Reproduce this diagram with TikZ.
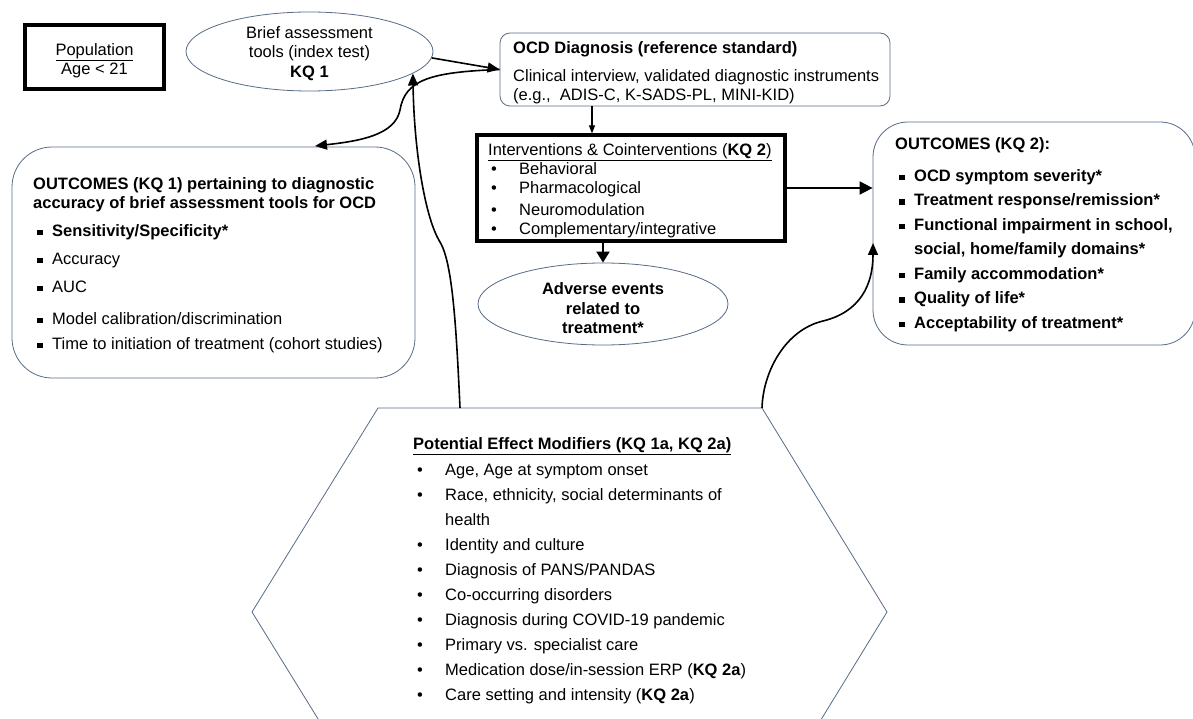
\documentclass[tikz,border=0pt]{standalone}
\usepackage{fontspec}
\setmainfont{Liberation Sans}
\usetikzlibrary{arrows.meta,shapes.geometric}
\definecolor{slate}{RGB}{88,108,134}
\newcommand{\sqb}{\rule[1.2pt]{5.5pt}{5.5pt}}
\newcommand{\sqitem}[1]{\hspace*{4pt}\makebox[15pt][l]{\sqb}#1}
\begin{document}
\begin{tikzpicture}[x=1pt,y=-1pt,
  every node/.style={font=\fontsize{16.5}{19}\selectfont},
  thinshape/.style={draw=slate, line width=0.8pt, inner sep=0pt},
  thickbox/.style={draw=black, line width=3.2pt, inner sep=0pt},
  txt/.style={anchor=west, align=left, inner sep=0pt},
  ctxt/.style={align=center, inner sep=0pt},
  conn/.style={line width=1.6pt, -{Triangle[length=12pt,width=10pt]}}]
\useasboundingbox (0,0) rectangle (1193,719);
\fill[white] (0,0) rectangle (1193,719);

% Population
\node[thickbox, line width=3.8pt, minimum width=139pt, minimum height=64pt] (pop) at (94.5,57) {};
\node[ctxt] (popt) at (94.5,60.5) {\underline{Population}\\Age < 21};

% Brief assessment tools ellipse
\node[thinshape, ellipse, minimum width=247pt, minimum height=79pt] (bat) at (309.5,51.5) {};
\node[ctxt, font=\fontsize{16.5}{19.5}\selectfont] (batt) at (309.5,53.5) {Brief assessment\\tools (index test)\\\textbf{KQ 1}};

% OCD diagnosis
\node[thinshape, rounded corners=10pt, minimum width=390pt, minimum height=73pt] (ocd) at (695,69.5) {};
\node[txt] (ocdt) at (513,72.5) {\textbf{OCD Diagnosis (reference standard)}\\[9pt]Clinical interview, validated diagnostic instruments\\(e.g.,\ \ ADIS-C, K-SADS-PL, MINI-KID)};

% Interventions
\node[thickbox, minimum width=308pt, minimum height=106pt] (inter) at (631,188) {};
\node[txt] (intert) at (488,190.5) {\underline{Interventions \& Cointerventions (\textbf{KQ 2})}\\
\hspace*{3pt}\makebox[28pt][l]{\textbullet}Behavioral\\
\hspace*{3pt}\makebox[28pt][l]{\textbullet}Pharmacological\\[3pt]
\hspace*{3pt}\makebox[28pt][l]{\textbullet}Neuromodulation\\
\hspace*{3pt}\makebox[28pt][l]{\textbullet}Complementary/integrative};

% Adverse events
\node[thinshape, ellipse, minimum width=250pt, minimum height=82pt] (adv) at (603,304) {};
\node[ctxt, font=\fontsize{16.5}{19.5}\selectfont\bfseries] (advt) at (603,308.5) {Adverse events\\related to\\treatment*};

% Outcomes KQ1
\node[thinshape, rounded corners=40pt, minimum width=403pt, minimum height=231pt] (kq1) at (213.5,262.5) {};
\node[txt] (kq1t) at (33,265) {\textbf{OUTCOMES (KQ 1) pertaining to diagnostic}\\
\textbf{accuracy of brief assessment tools for OCD}\\[9pt]
\sqitem{\textbf{Sensitivity/Specificity*}}\\[9pt]
\sqitem{Accuracy}\\[9pt]
\sqitem{AUC}\\[13pt]
\sqitem{Model calibration/discrimination}\\[6pt]
\sqitem{Time to initiation of treatment (cohort studies)}};

% Outcomes KQ2
\node[thinshape, rounded corners=35pt, minimum width=322pt, minimum height=223pt] (kq2) at (1034,233.5) {};
\node[txt, font=\fontsize{16.5}{24.5}\selectfont\bfseries] (kq2t) at (895,234.5) {OUTCOMES (KQ 2):\\[7.5pt]
\sqitem{OCD symptom severity*}\\
\sqitem{Treatment response/remission*}\\
\sqitem{Functional impairment in school,}\\
\hspace*{19pt}social, home/family domains*\\
\sqitem{Family accommodation*}\\
\sqitem{Quality of life*}\\
\sqitem{Acceptability of treatment*}};

% Hexagon
\coordinate (hA) at (378,408);
\coordinate (hB) at (762,408);
\coordinate (hC) at (887,612);
\coordinate (hD) at (762,816);
\coordinate (hE) at (378,816);
\coordinate (hF) at (252,612);
\draw[slate, line width=0.8pt] (hA) -- (hB) -- (hC) -- (hD) -- (hE) -- (hF) -- cycle;
\node[txt, font=\fontsize{16.5}{25}\selectfont] (hext) at (413,571) {\textbf{\underline{Potential Effect Modifiers (KQ 1a, KQ 2a)}}\\[1pt]
\hspace*{4pt}\makebox[28pt][l]{\textbullet}Age, Age at symptom onset\\
\hspace*{4pt}\makebox[28pt][l]{\textbullet}Race, ethnicity, social determinants of\\
\hspace*{32pt}health\\
\hspace*{4pt}\makebox[28pt][l]{\textbullet}Identity and culture\\
\hspace*{4pt}\makebox[28pt][l]{\textbullet}Diagnosis of PANS/PANDAS\\
\hspace*{4pt}\makebox[28pt][l]{\textbullet}Co-occurring disorders\\
\hspace*{4pt}\makebox[28pt][l]{\textbullet}Diagnosis during COVID-19 pandemic\\
\hspace*{4pt}\makebox[28pt][l]{\textbullet}Primary vs. specialist care\\
\hspace*{4pt}\makebox[28pt][l]{\textbullet}Medication dose/in-session ERP (\textbf{KQ 2a})\\
\hspace*{4pt}\makebox[28pt][l]{\textbullet}Care setting and intensity (\textbf{KQ 2a})};

% connector coordinates
\coordinate (k1in) at (315,146);
\coordinate (h1) at (460,408);
\coordinate (k2in) at (873,243);
\coordinate (o2i) at (592,0);

% connectors
\draw[conn] (bat.-3) -- (ocd.west);
\draw[conn] (ocd.west) .. controls (430,72) and (405,80) .. (400,110)
  .. controls (395,135) and (360,141) .. (k1in);
\draw[conn] (h1) .. controls (456,320) and (452,262) .. (440,242)
  .. controls (425,218) and (414,150) .. (bat.-12);
\draw[line width=1.1pt, -{Triangle[length=8pt,width=6pt]}] (o2i |- ocd.south) -- (o2i |- inter.north);
\draw[line width=2pt, -{Triangle[length=11pt,width=13pt]}] (adv.north |- inter.south) -- (adv.north);
\draw[line width=1.8pt, -{Triangle[length=13pt,width=13pt]}] (inter.east) -- (kq2.west |- inter.east);
\draw[conn] (hB) .. controls (763,372) and (785,330) .. (823,321)
  .. controls (860,312) and (873,285) .. (k2in);
\end{tikzpicture}
\end{document}
